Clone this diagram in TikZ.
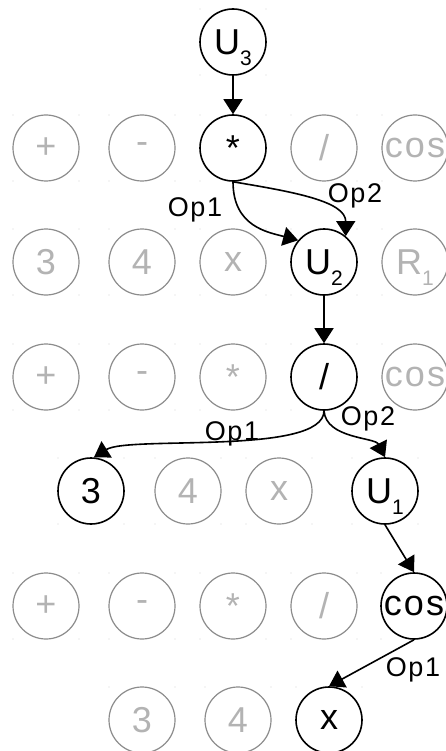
\documentclass[tikz,border=0pt]{standalone}
\usepackage{fontspec}
\setmainfont{Liberation Sans}[LetterSpace=6]
\usetikzlibrary{arrows.meta}

\definecolor{strokegray}{HTML}{8C8C8C}
\definecolor{textgray}{HTML}{B3B3B3}
\definecolor{dotgray}{HTML}{8A8A8A}

\newcommand{\usub}[1]{\smash{\raisebox{-11pt}{\fontsize{21}{21}\selectfont #1}}}

\tikzset{
  blk/.style={circle, draw=black, line width=1.6, minimum size=66, inner sep=0,
    font=\fontsize{36}{40}\selectfont},
  gry/.style={blk, draw=strokegray, text=textgray, line width=1.2},
  lbl/.style={font=\fontsize{27}{30}\selectfont, inner sep=0, anchor=base},
  arr/.style={-{Triangle[length=15pt,width=19pt]}, line width=1.6},
}

\begin{document}
\begin{tikzpicture}[x=1pt,y=-1pt]
  \useasboundingbox (0,0) rectangle (446,751);

        % row 0
        \node[blk] (u3)     at (233,42)  {U\usub{3}};

        % row 1
        \begin{scope}[every node/.style={gry}]
          \node (add1)  at (46,148)  {+};
          \node (sub1)  at (142,148) {-};
          \node (div1)  at (324,148) {/};
          \node (cos1)  at (415,148) {cos};
        \end{scope}
        \node[blk] (mul1)   at (233,148) {*};

        % row 2
        \begin{scope}[every node/.style={gry}]
          \node (three2) at (46,262)  {3};
          \node (four2)  at (142,262) {4};
          \node (x2)     at (233,262) {x};
          \node (r2)     at (415,262) {R\usub{1}};
        \end{scope}
        \node[blk] (u2)     at (324,262) {U\usub{2}};

        % row 3
        \begin{scope}[every node/.style={gry}]
          \node (add3)  at (46,377)  {+};
          \node (sub3)  at (142,377) {-};
          \node (mul3)  at (233,377) {*};
          \node (cos3)  at (415,377) {cos};
        \end{scope}
        \node[blk] (div3)   at (324,377) {/};

        % row 4
        \begin{scope}[every node/.style={gry}]
          \node (four4) at (188,491) {4};
          \node (x4)    at (279,491) {x};
        \end{scope}
        \node[blk] (three4) at (91,491)  {3};
        \node[blk] (u1)     at (385,491) {U\usub{1}};

        % row 5
        \begin{scope}[every node/.style={gry}]
          \node (add5)  at (46,606)  {+};
          \node (sub5)  at (142,606) {-};
          \node (mul5)  at (233,606) {*};
          \node (div5)  at (324,606) {/};
        \end{scope}
        \node[blk] (cos5)   at (414,606) {cos};

        % row 6
        \begin{scope}[every node/.style={gry}]
          \node (three6) at (142,720) {3};
          \node (four6)  at (238,720) {4};
        \end{scope}
        \node[blk] (x6)     at (329,720) {x};

        % corner marks
        \foreach \n in {u3,add1,sub1,mul1,div1,cos1,three2,four2,x2,u2,r2,
                        add3,sub3,mul3,div3,cos3,three4,four4,x4,u1,
                        add5,sub5,mul5,div5,cos5,three6,four6,x6}
          \foreach \dx/\dy in {-33/-33,33/-33,-33/33,33/33}
            \fill[dotgray] ([shift={(\dx,\dy)}]\n.center) circle (0.45);

        % connectors
        \draw[arr] (u3) -- (mul1);
        \draw[arr] (mul1.south) .. controls +(0,45) and +(-30,-8) .. (u2.140);
        \draw[arr] (mul1.south) .. controls +(60,10) and +(0,-35) .. (u2.50);
        \draw[arr] (u2) -- (div3);
        \draw[arr] (div3.south) .. controls +(0,45) and +(35,-22) .. (three4.85);
        \draw[arr] (div3.south) .. controls +(2,28) and +(-10,-20) .. (u1.north);
        \draw[arr] (u1.south) -- (cos5.north);
        \draw[arr] (cos5.south) -- (x6.north);

        % labels
        \node[lbl] (op1a) at (195,217) {Op1};
        \node[lbl] (op2a) at (355,203) {Op2};
        \node[lbl] (op1b) at (232,440) {Op1};
        \node[lbl] (op2b) at (368,425) {Op2};
        \node[lbl] (op1c) at (413,676) {Op1};

\end{tikzpicture}
\end{document}
